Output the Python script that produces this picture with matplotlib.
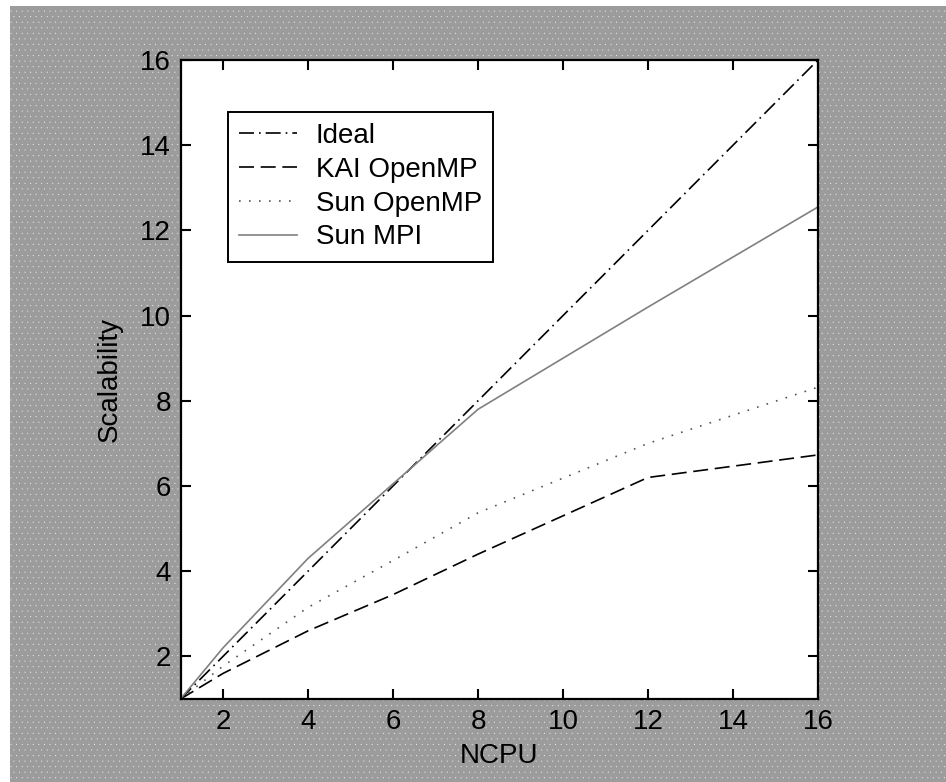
import matplotlib
matplotlib.use("Agg")
import matplotlib.pyplot as plt
from matplotlib.patches import Rectangle

ncpu = [1, 2, 4, 6, 8, 12, 16]
ideal = [1, 2, 4, 6, 8, 12, 16]
kai_openmp = [1, 1.6, 2.6, 3.45, 4.4, 6.2, 6.73]
sun_openmp = [1, 1.77, 3.15, 4.25, 5.37, 7.0, 8.32]
sun_mpi = [1, 2.2, 4.3, 6.05, 7.8, 10.2, 12.55]
xticks = [2, 4, 6, 8, 10, 12, 14, 16]
yticks = [2, 4, 6, 8, 10, 12, 14, 16]

plt.rcParams['font.family'] = ['Liberation Sans', 'DejaVu Sans']
plt.rcParams['hatch.linewidth'] = 0.0

W, H = 946, 782
fig = plt.figure(figsize=(W / 100, H / 100), dpi=100, facecolor='white')

bg = Rectangle((10 / W, 0), 1 - 10 / W, 1 - 6 / H, transform=fig.transFigure,
               facecolor='#9c9c9c', edgecolor='#f4f4f4', hatch='...', linewidth=0,
               zorder=-10)
fig.patches.append(bg)

ax = fig.add_axes([180.5 / W, 1 - 699 / H, (818 - 180.5) / W, (699 - 60) / H])
ax.set_facecolor('white')

ax.plot(ncpu, ideal, color='black', lw=1.2, linestyle=(0, (9, 3, 1, 3)), label='Ideal')
ax.plot(ncpu, kai_openmp, color='black', lw=1.2, linestyle=(0, (9, 4)), label='KAI OpenMP')
ax.plot(ncpu, sun_openmp, color='#555555', lw=1.2, linestyle=(0, (1, 5)), label='Sun OpenMP')
ax.plot(ncpu, sun_mpi, color='#808080', lw=1.2, linestyle='-', label='Sun MPI')

ax.set_xlim(1, 16)
ax.set_ylim(1, 16)
ax.set_xticks(xticks)
ax.set_yticks(yticks)
ax.tick_params(direction='in', length=7, width=1.5, top=True, right=True,
               labelsize=20, pad=7, colors='black')
for s in ax.spines.values():
    s.set_linewidth(1.6)
    s.set_color('black')

ax.set_xlabel('NCPU', fontsize=20, labelpad=6)
ax.set_ylabel('Scalability', fontsize=20, labelpad=12)

leg = ax.legend(loc='upper left', bbox_to_anchor=((228 - 180.5) / (818 - 180.5), (699 - 112) / (699 - 60)),
                fontsize=20, frameon=True, fancybox=False, shadow=False,
                handlelength=2.1, handletextpad=0.65, borderpad=0.4, labelspacing=0.28,
                borderaxespad=0)
leg.get_frame().set_edgecolor('black')
leg.get_frame().set_linewidth(1.4)
leg.get_frame().set_alpha(1)

fig.savefig('out.png', dpi=100, facecolor=fig.get_facecolor())
